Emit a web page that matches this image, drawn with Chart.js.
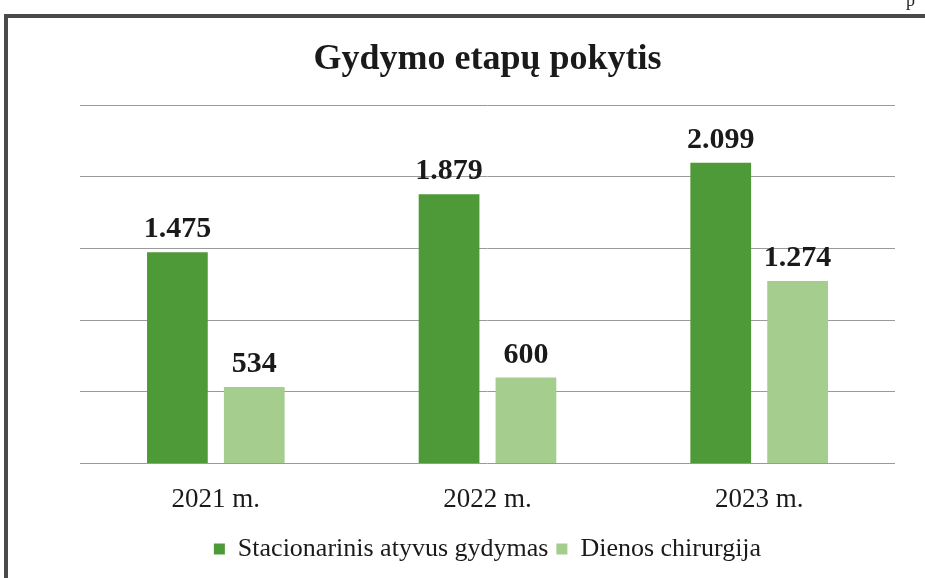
<!DOCTYPE html>
<html>
<head>
<meta charset="utf-8">
<script src="https://cdn.jsdelivr.net/npm/chart.js@4"></script>
<style>
  html, body { margin: 0; padding: 0; background: #fff; overflow: hidden; }
  #wrap { position: relative; width: 925px; height: 578px; }
  #frame {
    position: absolute; left: 4px; top: 14px; width: 940px; height: 560px;
    border: 4px solid #4a4a4a; pointer-events: none;
  }
  #pageText {
    position: absolute; left: 906px; top: -10px;
    font: 18px "Liberation Serif", serif; color: #222;
  }
  canvas { position: absolute; left: 0; top: 0; }
</style>
</head>
<body>
<div id="wrap">
  <canvas id="chart" width="925" height="578"></canvas>
  <div id="frame"></div>
  <div id="pageText">p</div>
</div>
<script>
const years = ["2021 m.", "2022 m.", "2023 m."];
const stacionarinis = [1475, 1879, 2099];
const dienos = [534, 600, 1274];

const darkGreen = "#4f9a38";
const lightGreen = "#a5cd8e";

// thousands with a dot, like 1.475
function fmt(v) {
  return String(v).replace(/\B(?=(\d{3})+(?!\d))/g, ".");
}

// value labels above the bars
const valueLabels = {
  id: "valueLabels",
  afterDatasetsDraw(chart) {
    const ctx = chart.ctx;
    ctx.save();
    ctx.font = "bold 30px 'Liberation Serif', serif";
    ctx.fillStyle = "#1a1a1a";
    ctx.textAlign = "center";
    ctx.textBaseline = "alphabetic";
    chart.data.datasets.forEach((ds, i) => {
      chart.getDatasetMeta(i).data.forEach((bar, j) => {
        ctx.fillText(fmt(ds.data[j]), bar.x, bar.y - 15);
      });
    });
    ctx.restore();
  }
};

new Chart(document.getElementById("chart").getContext("2d"), {
  type: "bar",
  data: {
    labels: years,
    datasets: [
      {
        label: "Stacionarinis atyvus gydymas",
        data: stacionarinis,
        backgroundColor: darkGreen,
        categoryPercentage: 0.566,
        barPercentage: 0.79
      },
      {
        label: "Dienos chirurgija",
        data: dienos,
        backgroundColor: lightGreen,
        categoryPercentage: 0.566,
        barPercentage: 0.79
      }
    ]
  },
  options: {
    responsive: false,
    animation: false,
    layout: {
      padding: { left: 80, right: 30, top: 0, bottom: 6 }
    },
    plugins: {
      title: {
        display: true,
        text: "Gydymo etapų pokytis",
        color: "#1a1a1a",
        font: { family: "'Liberation Serif', serif", size: 36, weight: "bold" },
        padding: { top: 38, bottom: 24 }
      },
      legend: {
        position: "bottom",
        labels: {
          color: "#1a1a1a",
          font: { family: "'Liberation Serif', serif", size: 26 },
          boxWidth: 11,
          boxHeight: 11,
          padding: 8
        }
      },
      tooltip: { enabled: false }
    },
    scales: {
      x: {
        grid: { display: false },
        border: { display: false },
        ticks: {
          color: "#1a1a1a",
          padding: 12,
          font: { family: "'Liberation Serif', serif", size: 27 }
        }
      },
      y: {
        min: 0,
        max: 2500,
        ticks: { stepSize: 500, display: false },
        grid: { color: "#9a9a9a", lineWidth: 1, drawTicks: false },
        border: { display: false }
      }
    }
  },
  plugins: [valueLabels]
});
</script>
</body>
</html>
